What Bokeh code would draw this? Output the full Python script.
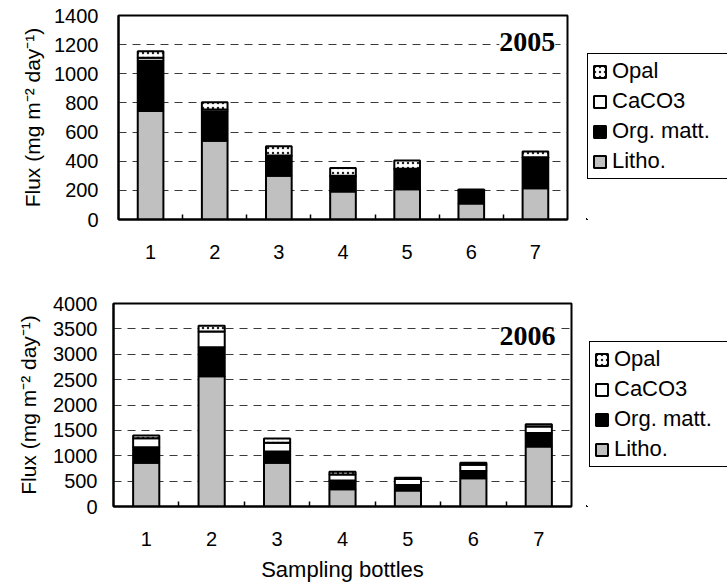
from bokeh.plotting import figure
from bokeh.models import Range1d, FixedTicker, Legend, LegendItem, Label, ColumnDataSource
from bokeh.layouts import column, row
from bokeh.transform import stack
from bokeh.embed import file_html
from bokeh.resources import INLINE

bottles = [1, 2, 3, 4, 5, 6, 7]
bottle_labels = ["1", "2", "3", "4", "5", "6", "7"]

litho_2005 = [745, 540, 300, 192, 208, 110, 215]
org_2005 = [345, 200, 135, 105, 138, 85, 200]
caco3_2005 = [20, 15, 5, 3, 3, 3, 12]
opal_2005 = [45, 50, 62, 53, 56, 8, 40]

litho_2006 = [862, 2565, 862, 340, 313, 555, 1180]
org_2006 = [305, 575, 220, 170, 111, 143, 270]
caco3_2006 = [180, 310, 175, 120, 118, 124, 124]
opal_2006 = [50, 110, 85, 55, 26, 40, 45]

yticks_2005 = [0, 200, 400, 600, 800, 1000, 1200, 1400]
yticks_2006 = [0, 500, 1000, 1500, 2000, 2500, 3000, 3500, 4000]

components = ["litho", "org", "caco3", "opal"]
component_labels = ["Litho.", "Org. matt.", "CaCO3", "Opal"]
component_fills = ["#c0c0c0", "black", "white", "white"]

FONT = "Liberation Sans"
YLABEL = "Flux (mg m\u207b\u00b2 day\u207b\u00b9)"
LEG_W = 141


def style_kw(name):
    if name == "opal":
        return dict(hatch_pattern="dot", hatch_scale=5, hatch_weight=1.2, hatch_color="#222222")
    return {}


def make_chart(src, year, yticks, height, bl, br, bt, bb,
               ystand, ylab_stand, year_xy, xlabel=None):
    p = figure(width=727 - LEG_W, height=height, output_backend="svg", toolbar_location=None,
               x_range=Range1d(0.5, 7.5), y_range=Range1d(yticks[0], yticks[-1]),
               min_border_left=bl, min_border_right=br, min_border_top=bt, min_border_bottom=bb)
    p.background_fill_color = "white"
    p.border_fill_color = "white"
    p.outline_line_color = "black"
    p.outline_line_width = 2
    p.outline_line_alpha = 1.0
    p.xgrid.visible = False
    p.ygrid.grid_line_color = "#3a3a3a"
    p.ygrid.grid_line_dash = "8 6"
    p.ygrid.grid_line_width = 1
    p.ygrid.ticker = FixedTicker(ticks=yticks[1:-1])

    p.yaxis.ticker = FixedTicker(ticks=yticks)
    p.yaxis.axis_line_width = 2
    p.yaxis.axis_line_color = "black"
    p.yaxis.major_tick_line_color = None
    p.yaxis.minor_tick_line_color = None
    p.yaxis.major_tick_out = 0
    p.yaxis.major_label_standoff = ystand
    p.yaxis.major_label_text_font = FONT
    p.yaxis.major_label_text_font_size = "20px"
    p.yaxis.major_label_text_color = "black"
    p.yaxis.axis_label = YLABEL
    p.yaxis.axis_label_text_font = FONT
    p.yaxis.axis_label_text_font_size = "21px"
    p.yaxis.axis_label_text_font_style = "normal"
    p.yaxis.axis_label_text_color = "black"
    p.yaxis.axis_label_standoff = ylab_stand

    p.xaxis.ticker = FixedTicker(ticks=bottles, minor_ticks=[1.5, 2.5, 3.5, 4.5, 5.5, 6.5])
    p.xaxis.major_label_overrides = {b: l for b, l in zip(bottles, bottle_labels)}
    p.xaxis.axis_line_width = 2
    p.xaxis.axis_line_color = "black"
    p.xaxis.major_tick_line_color = None
    p.xaxis.major_tick_out = 0
    p.xaxis.major_tick_in = 0
    p.xaxis.minor_tick_in = 5
    p.xaxis.minor_tick_out = 0
    p.xaxis.minor_tick_line_color = "black"
    p.xaxis.minor_tick_line_width = 1.5
    p.xaxis.major_label_standoff = 25
    p.xaxis.major_label_text_font = FONT
    p.xaxis.major_label_text_font_size = "20px"
    p.xaxis.major_label_text_color = "black"
    if xlabel:
        p.xaxis.axis_label = xlabel
        p.xaxis.axis_label_text_font = FONT
        p.xaxis.axis_label_text_font_size = "22px"
        p.xaxis.axis_label_text_font_style = "normal"
        p.xaxis.axis_label_text_color = "black"
        p.xaxis.axis_label_standoff = 8

    for i, (n, f) in enumerate(zip(components, component_fills)):
        p.vbar(x="x", width=0.4, bottom=stack(*components[:i]), top=stack(*components[:i + 1]),
               source=src, fill_color=f, line_color="black", line_width=2, **style_kw(n))

    lab = Label(x=year_xy[0], y=year_xy[1], text=year, text_align="right",
                text_baseline="middle", text_font="Liberation Serif",
                text_font_size="28px", text_font_style="bold", text_color="black",
                background_fill_color="white", background_fill_alpha=1.0)
    p.add_layout(lab)
    return p


def make_legend(src, height, bt, bb, loc):
    # same data, but ranges put the bars out of view: only the legend shows
    lf = figure(width=LEG_W, height=height, output_backend="svg", toolbar_location=None,
                x_range=Range1d(20, 30), y_range=Range1d(10000, 20000),
                x_axis_location=None, y_axis_location=None,
                min_border_left=0, min_border_right=0,
                min_border_top=bt, min_border_bottom=bb)
    lf.grid.visible = False
    lf.outline_line_color = None
    lf.background_fill_color = "white"
    lf.border_fill_color = "white"
    rends = []
    for i, (n, f) in enumerate(zip(components, component_fills)):
        r = lf.vbar(x="x", width=0.4, bottom=stack(*components[:i]), top=stack(*components[:i + 1]),
                    source=src, fill_color=f, line_color="black", line_width=2, **style_kw(n))
        rends.append(r)
    items = [LegendItem(label=component_labels[i], renderers=[rends[i]]) for i in [3, 2, 1, 0]]
    leg = Legend(items=items, location=loc, label_text_font=FONT,
                 label_text_font_size="22px", label_text_color="black",
                 label_height=25, label_width=130, glyph_height=15, glyph_width=15, spacing=4,
                 padding=4, margin=0, label_standoff=5,
                 border_line_color="black", border_line_width=1, border_line_alpha=1,
                 background_fill_color="white", background_fill_alpha=1)
    lf.add_layout(leg, "center")
    return lf


src05 = ColumnDataSource(dict(x=bottles, litho=litho_2005, org=org_2005,
                              caco3=caco3_2005, opal=opal_2005))
src06 = ColumnDataSource(dict(x=bottles, litho=litho_2006, org=org_2006,
                              caco3=caco3_2006, opal=opal_2006))

p1 = make_chart(src05, "2005", yticks_2005, 280, 118, 19, 15, 61, 20, 7, (7.31, 1221))
l1 = make_legend(src05, 280, 15, 61, (1, 40))
p2 = make_chart(src06, "2006", yticks_2006, 304, 113, 15, 23, 76, 16, 10, (7.255, 3356),
                xlabel="Sampling bottles")
l2 = make_legend(src06, 304, 23, 76, (3, 39))

p = column(row(p1, l1, spacing=0), row(p2, l2, spacing=0), spacing=0)
open("out.html", "w").write(file_html(p, INLINE))
